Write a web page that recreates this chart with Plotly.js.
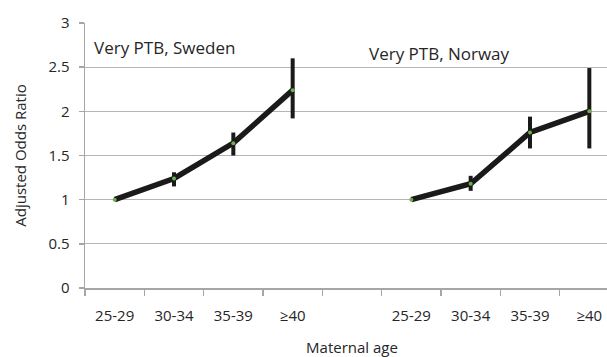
<!DOCTYPE html>
<html>
<head>
<meta charset="utf-8">
<script src="https://cdn.plot.ly/plotly-3.0.1.min.js"></script>
<style>
html, body { margin: 0; padding: 0; overflow: hidden; background: #fff; }
#chart { width: 625px; height: 357px; }
</style>
</head>
<body>
<div id="chart"></div>
<script>
// Data
var categories = ["25-29", "30-34", "35-39", "\u226540"];
var swedenOR   = [1.00, 1.24, 1.64, 2.24];
var swedenLow  = [1.00, 1.15, 1.50, 1.92];
var swedenHigh = [1.00, 1.31, 1.76, 2.60];
var norwayOR   = [1.00, 1.18, 1.76, 2.00];
var norwayLow  = [1.00, 1.10, 1.58, 1.58];
var norwayHigh = [1.00, 1.27, 1.94, 2.49];
var panelLabels = ["Very PTB, Sweden", "Very PTB, Norway"];
var yTicks = [0, 0.5, 1, 1.5, 2, 2.5, 3];

// positions: Sweden in slots 0-3, gap slot 4, Norway in slots 5-8
var swX = categories.map(function (c, i) { return i; });
var noX = categories.map(function (c, i) { return i + categories.length + 1; });
var nSlots = categories.length * 2 + 1;

function diffs(v, ref, up) {
  return v.map(function (x, i) { return up ? x - ref[i] : ref[i] - x; });
}

var lineColor = "#1a1a1a";
var fontFam = "'Open Sans', Lato, sans-serif";
var textColor = "#262626";

function series(xs, or, lo, hi) {
  return {
    type: "scatter", mode: "lines+markers", x: xs, y: or,
    line: { color: lineColor, width: 5.5 },
    marker: { color: "#6ab04c", size: 4 },
    error_y: {
      type: "data", symmetric: false,
      array: diffs(hi, or, true), arrayminus: diffs(lo, or, false),
      color: lineColor, thickness: 4, width: 0
    },
    hoverinfo: "skip", showlegend: false
  };
}

var boundaries = [];
for (var b = 0; b <= nSlots; b++) boundaries.push(b - 0.5);

var traces = [
  series(swX, swedenOR, swedenLow, swedenHigh),
  series(noX, norwayOR, norwayLow, norwayHigh)
];

var axisGray = "#a6a6a6";
var layout = {
  width: 625, height: 357,
  margin: { l: 85, r: 6, t: 23, b: 69 },
  paper_bgcolor: "#fff", plot_bgcolor: "#fff",
  font: { family: fontFam, color: textColor, size: 14 },
  showlegend: false,
  xaxis: {
    type: "linear", range: [-0.5, nSlots - 0.5],
    tickmode: "array",
    tickvals: swX.concat(noX),
    ticktext: categories.concat(categories),
    ticks: "", showgrid: false, zeroline: false,
    showline: true, linecolor: axisGray, linewidth: 1.5,
    minor: {
      tickmode: "array", tickvals: boundaries,
      ticks: "outside", ticklen: 6, tickwidth: 1.5, tickcolor: axisGray,
      showgrid: false
    },
    tickfont: { size: 15, family: fontFam, color: textColor },
    ticklabelstandoff: 13,
    title: { text: "Maternal age", font: { size: 15, family: fontFam, color: textColor }, standoff: 20 },
    fixedrange: true
  },
  yaxis: {
    range: [0, 3], tickmode: "array", tickvals: yTicks,
    ticktext: yTicks.map(function (v) { return String(v); }),
    ticks: "outside", ticklen: 5, tickwidth: 1.5, tickcolor: axisGray,
    showline: true, linecolor: axisGray, linewidth: 1.5,
    showgrid: true, gridcolor: "#b5b5b5", gridwidth: 1.3, zeroline: false,
    tickfont: { size: 15, family: fontFam, color: textColor },
    ticklabelstandoff: 6,
    title: { text: "Adjusted Odds Ratio", font: { size: 15, family: fontFam, color: textColor }, standoff: 18 },
    fixedrange: true
  },
  annotations: [
    { text: panelLabels[0], x: -0.38, y: 2.72, xref: "x", yref: "y", xanchor: "left", yanchor: "middle",
      showarrow: false, font: { size: 17, family: fontFam, color: textColor } },
    { text: panelLabels[1], x: 4.25, y: 2.66, xref: "x", yref: "y", xanchor: "left", yanchor: "middle",
      showarrow: false, font: { size: 17, family: fontFam, color: textColor } }
  ]
};

Plotly.newPlot("chart", traces, layout, { displayModeBar: false, staticPlot: true });
</script>
</body>
</html>
